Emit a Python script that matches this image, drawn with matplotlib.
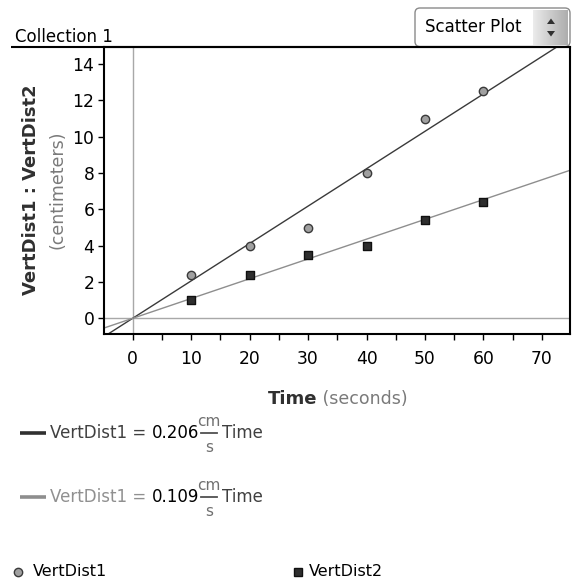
import numpy as np
import matplotlib.pyplot as plt
from matplotlib.patches import FancyBboxPatch, Polygon
from matplotlib.ticker import MultipleLocator

# data
time1 = [10, 20, 30, 40, 50, 60]
vert1 = [2.4, 4.0, 5.0, 8.0, 11.0, 12.5]
time2 = [10, 20, 30, 40, 50, 60]
vert2 = [1.0, 2.4, 3.5, 4.0, 5.4, 6.4]
slopes = [0.206, 0.109]
slope_labels = ["0.206", "0.109"]
x_ticks = [0, 10, 20, 30, 40, 50, 60, 70]
y_ticks = [0, 2, 4, 6, 8, 10, 12, 14]

plt.rcParams['font.family'] = ['DejaVu Sans']

W, H = 574, 581
fig = plt.figure(figsize=(W / 100, H / 100), dpi=100)
renderer = fig.canvas.get_renderer()

# ---------------------------------------------------------------------------
# main plot
# ---------------------------------------------------------------------------
ax = fig.add_axes([104 / W, 1 - 334.3 / H, (570 - 104) / W, (334.3 - 46.7) / H])
ax.set_xlim(-4.9, 74.8)
ax.set_ylim(-0.88, 14.96)
ax.axvline(0, color='#a8a8a8', lw=1, zorder=1)
ax.axhline(0, color='#a8a8a8', lw=1, zorder=1)

xs = np.array(ax.get_xlim())
ax.plot(xs, slopes[0] * xs, color='#3a3a3a', lw=1.0, zorder=2)
ax.plot(xs, slopes[1] * xs, color='#8e8e8e', lw=1.0, zorder=2)
ax.scatter(time1, vert1, s=36, marker='o', facecolor='#a0a0a0',
           edgecolor='#3a3a3a', lw=1, zorder=3)
ax.scatter(time2, vert2, s=36, marker='s', facecolor='#2e2e2e',
           edgecolor='#101010', lw=1, zorder=3)

ax.set_xticks(x_ticks)
ax.set_yticks(y_ticks)
ax.xaxis.set_minor_locator(MultipleLocator(5))
ax.tick_params(axis='both', which='both', direction='out', length=4.5,
               width=1, labelsize=12.3, colors='k')
ax.tick_params(axis='x', pad=6.5)
ax.tick_params(axis='y', pad=2.5)
for sp in ax.spines.values():
    sp.set_linewidth(1.5)

# ---------------------------------------------------------------------------
# overlay in pixel coordinates for the header, labels and legend
# ---------------------------------------------------------------------------
ov = fig.add_axes([0, 0, 1, 1])
ov.set_zorder(5)
ov.axis('off')


def width(t):
    return t.get_window_extent(renderer).width


def row(pieces, x, y, ha='left'):
    """Draw text pieces side by side on one line, return them and the end x."""
    texts = []
    for s, kw in pieces:
        texts.append(ov.text(0, y, s, va='center', ha='left', **kw))
    widths = [width(t) for t in texts]
    x0 = x - sum(widths) / 2 if ha == 'center' else x
    for t, w in zip(texts, widths):
        t.set_x(x0)
        x0 += w
    return texts, x0


# header
ov.plot([11, 570], [46.7, 46.7], color='k', lw=1.5, solid_capstyle='butt')
ov.text(15, 36.5, "Collection 1", fontsize=12, va='center', ha='left')
box = FancyBboxPatch((415, 8), 155, 38.5,
                     boxstyle='round,pad=0,rounding_size=5',
                     fc='white', ec='#8a8a8a', lw=1)
ov.add_patch(box)
grad = np.linspace(0.92, 0.68, 32)[None, :]
ov.imshow(grad, extent=(533, 568, 45, 10), cmap='gray', vmin=0, vmax=1,
          aspect='auto', zorder=3)
ov.add_patch(Polygon([[547, 24], [555, 24], [551, 18.5]], closed=True,
                     fc='#303030', ec='none', zorder=4))
ov.add_patch(Polygon([[547, 31], [555, 31], [551, 36.5]], closed=True,
                     fc='#303030', ec='none', zorder=4))
ov.text(425, 27.5, "Scatter Plot", fontsize=12, va='center', ha='left')

# axis labels
row([("Time", dict(fontsize=13, fontweight='bold', color='#303030')),
     (" (seconds)", dict(fontsize=12.5, color='#7a7a7a'))],
    338, 399.5, ha='center')
ov.text(31, 190, "VertDist1 : VertDist2", fontsize=13, fontweight='bold',
        color='#303030', rotation=90, va='center', ha='center')
ov.text(57, 190, "(centimeters)", fontsize=12.5, color='#7a7a7a',
        rotation=90, va='center', ha='center')

# fitted-line equations
eq_rows = [(433, '#303030', '#404040'), (497, '#8e8e8e', '#909090')]
for (y, lcol, tcol), lab in zip(eq_rows, slope_labels):
    ov.plot([20, 46], [y, y], color=lcol, lw=2.6, solid_capstyle='butt')
    texts, xe = row([("VertDist1 = ", dict(fontsize=12, color=tcol)),
                     (lab, dict(fontsize=12, color='k'))], 50, y)
    fx = xe + 10
    ov.text(fx, y - 12, "cm", fontsize=11, color='#707070',
            ha='center', va='center')
    ov.plot([fx - 8, fx + 8], [y, y], color='#505050', lw=1.3)
    ov.text(fx, y + 15, "s", fontsize=11, color='#707070',
            ha='center', va='center')
    ov.text(fx + 13, y, "Time", fontsize=12, color='#404040',
            ha='left', va='center')

# series legend
ov.plot([18], [572], marker='o', ms=6, mfc='#a0a0a0', mec='#3a3a3a', mew=1)
ov.text(33, 572, "VertDist1", fontsize=11.5, va='center', ha='left')
ov.plot([298], [572], marker='s', ms=6, mfc='#2e2e2e', mec='#101010', mew=1)
ov.text(309, 572, "VertDist2", fontsize=11.5, va='center', ha='left')

ov.set_xlim(0, W)
ov.set_ylim(H, 0)

fig.savefig("out.png", dpi=100)
